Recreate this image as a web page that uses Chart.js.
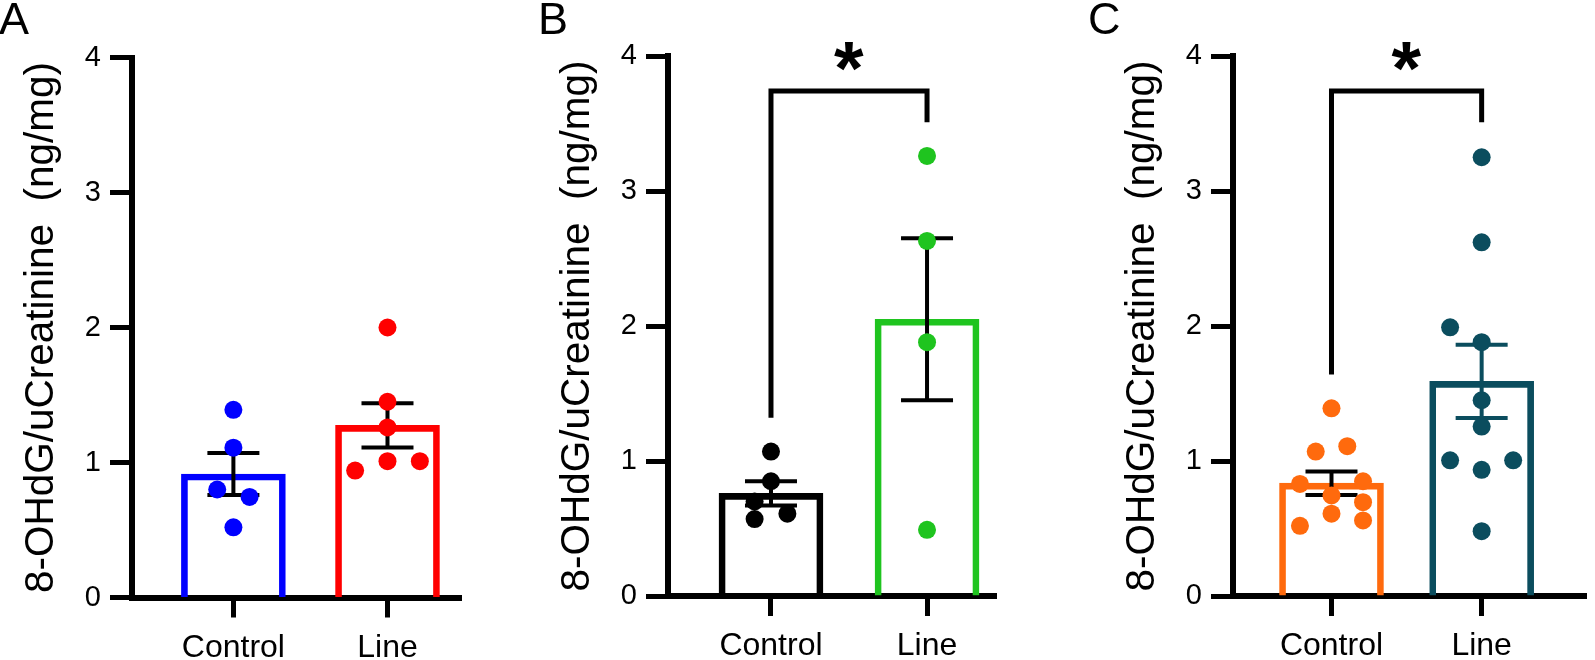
<!DOCTYPE html>
<html>
<head>
<meta charset="utf-8">
<script src="https://cdn.jsdelivr.net/npm/chart.js@4.4.1/dist/chart.umd.min.js"></script>
<style>
	html, body { margin: 0; padding: 0; background: #fff; }
	#wrap { position: relative; width: 1595px; height: 660px; overflow: hidden; }
	.panel { position: absolute; top: 0; height: 660px; }
</style>
</head>
<body>
<div id="wrap">
	<div class="panel" style="left:0;width:470px"><canvas id="chartA"></canvas></div>
	<div class="panel" style="left:536px;width:470px"><canvas id="chartB"></canvas></div>
	<div class="panel" style="left:1080px;width:515px"><canvas id="chartC"></canvas></div>
</div>
<script>
// shared axis data
const categories = ['Control', 'Line'];
const yTicks = [0, 1, 2, 3, 4];
const yTitle = '8-OHdG/uCreatinine  (ng/mg)';

// Panel A - bar = mean, whiskers = SEM, dots = animals
const aMeans = [0.915, 1.275];
const aSem = [0.155, 0.163];
const aControl = [1.39, 1.11, 0.80, 0.745, 0.52];
const aControlSlot = [0, 0, -1, 1, 0];
const aLine = [2.0, 1.45, 1.26, 1.01, 1.01, 0.94];
const aLineSlot = [0, 0, 0, 0, 2, -2];

// Panel B
const bMeans = [0.76, 2.05];
const bSem = [0.09, 0.60];
const bControl = [1.07, 0.85, 0.70, 0.61, 0.57];
const bControlSlot = [0, 0, -1, 1, -1];
const bLine = [3.26, 2.63, 1.88, 0.49];
const bLineSlot = [0, 0, 0, 0];
const bBracket = [1.32, 3.74, 3.51]; // left foot, top, right foot
const bStar = 4.0;

// Panel C
const cMeans = [0.836, 1.59];
const cSem = [0.087, 0.272];
const cControl = [1.39, 1.07, 1.11, 0.83, 0.85, 0.745, 0.695, 0.61, 0.56, 0.52];
const cControlSlot = [0, -1, 1, -2, 2, 0, 2, 0, 2, -2];
const cLine = [3.25, 2.62, 1.99, 1.88, 1.45, 1.255, 1.005, 1.005, 0.935, 0.48];
const cLineSlot = [0, 0, -2, 0, 0, 0, -2, 2, 0, 0];
const cBracket = [1.64, 3.74, 3.51];
const cStar = 4.0;

const FONT = '"Liberation Sans", Arial, Helvetica, sans-serif';
Chart.defaults.font.family = FONT;
Chart.defaults.color = '#000';

const slotStep = 0.105; // swarm column width in category units

function swarm(values, slots, cat) {
	return values.map(function(v, i) {
		return {x: cat + slots[i] * slotStep, y: v};
	});
}

// whiskers drawn right after the bars so the dots sit on top
const errorBars = {
	id: 'errorBars',
	afterDatasetDraw(chart, args, opts) {
		if (args.index !== 0) return;
		const ctx = chart.ctx;
		const x = chart.scales.x, y = chart.scales.y;
		ctx.save();
		ctx.lineWidth = 4;
		ctx.lineCap = 'butt';
		opts.means.forEach(function(m, i) {
			const px = x.getPixelForValue(i);
			const top = y.getPixelForValue(m + opts.sem[i]);
			const bot = y.getPixelForValue(m - opts.sem[i]);
			ctx.strokeStyle = opts.colors[i];
			ctx.beginPath();
			ctx.moveTo(px, top); ctx.lineTo(px, bot);
			ctx.moveTo(px - 26, top); ctx.lineTo(px + 26, top);
			ctx.moveTo(px - 26, bot); ctx.lineTo(px + 26, bot);
			ctx.stroke();
		});
		ctx.restore();
	}
};

const sigBracket = {
	id: 'sigBracket',
	afterDraw(chart, args, opts) {
		const ctx = chart.ctx;
		// panel letter
		ctx.save();
		ctx.font = '45px ' + FONT;
		ctx.fillStyle = '#000';
		ctx.textAlign = 'left';
		ctx.textBaseline = 'alphabetic';
		ctx.fillText(opts.letter, opts.letterX, 34);
		ctx.restore();

		if (!opts.bracket) return;
		const x = chart.scales.x, y = chart.scales.y;
		const x0 = x.getPixelForValue(0), x1 = x.getPixelForValue(1);
		ctx.save();
		ctx.strokeStyle = '#000';
		ctx.lineWidth = 5;
		ctx.lineJoin = 'miter';
		ctx.beginPath();
		ctx.moveTo(x0, y.getPixelForValue(opts.bracket[0]));
		ctx.lineTo(x0, y.getPixelForValue(opts.bracket[1]));
		ctx.lineTo(x1, y.getPixelForValue(opts.bracket[1]));
		ctx.lineTo(x1, y.getPixelForValue(opts.bracket[2]));
		ctx.stroke();
		// star, centred on its ink box
		ctx.font = 'bold 76px ' + FONT;
		ctx.fillStyle = '#000';
		ctx.textAlign = 'left';
		ctx.textBaseline = 'alphabetic';
		const m = ctx.measureText('*');
		const cx = (x0 + x1) / 2;
		const cy = y.getPixelForValue(opts.star);
		const left = cx - (m.actualBoundingBoxRight - m.actualBoundingBoxLeft) / 2;
		const base = cy + (m.actualBoundingBoxAscent - m.actualBoundingBoxDescent) / 2;
		ctx.fillText('*', left, base);
		ctx.restore();
	}
};

function buildPanel(id, p) {
	return new Chart(document.getElementById(id), {
		type: 'bar',
		data: {
			datasets: [{
				data: p.means.map(function(m, i) { return {x: i, y: m}; }),
				order: 2,
				barThickness: 104,
				backgroundColor: 'rgba(255,255,255,0)',
				borderColor: p.colors,
				borderWidth: 6
			}, {
				type: 'scatter',
				order: 1,
				data: swarm(p.ctrl, p.ctrlSlot, 0),
				backgroundColor: p.colors[0],
				pointRadius: 9,
				pointHoverRadius: 9,
				borderWidth: 0
			}, {
				type: 'scatter',
				order: 1,
				data: swarm(p.line, p.lineSlot, 1),
				backgroundColor: p.colors[1],
				pointRadius: 9,
				pointHoverRadius: 9,
				borderWidth: 0
			}]
		},
		options: {
			responsive: true,
			maintainAspectRatio: false,
			animation: false,
			events: [],
			layout: {padding: {left: 0, right: p.padRight, top: p.top, bottom: 0}},
			plugins: {
				legend: {display: false},
				tooltip: {enabled: false},
				errorBars: {means: p.means, sem: p.sem, colors: p.errColors},
				sigBracket: {bracket: p.bracket, star: p.star, letter: p.letter, letterX: p.letterX}
			},
			scales: {
				x: {
					type: 'linear',
					min: p.xMin,
					max: p.xMax,
					offset: false,
					bounds: 'data',
					z: 1,
					afterBuildTicks: function(s) { s.ticks = categories.map(function(c, i) { return {value: i}; }); },
					afterFit: function(s) { s.height = 660 - p.bottom; },
					grid: {offset: false, drawOnChartArea: false, drawTicks: true, tickLength: 20, tickWidth: 5, tickColor: '#000'},
					border: {display: true, width: 6, color: '#000'},
					ticks: {
						autoSkip: false, maxRotation: 0, padding: 11,
						font: {size: 32}, color: '#000',
						callback: function(v) { return categories[v]; }
					}
				},
				y: {
					min: 0,
					max: 4,
					afterBuildTicks: function(s) { s.ticks = yTicks.map(function(v) { return {value: v}; }); },
					afterFit: function(s) { s.width = p.axisX; },
					grid: {drawOnChartArea: false, drawTicks: true, tickLength: 22, tickWidth: 5, tickColor: '#000'},
					border: {display: true, width: 6, color: '#000'},
					ticks: {padding: 9, font: {size: 29}, color: '#000'},
					title: {display: true, text: yTitle, font: {size: 40.5, lineHeight: 1.2}, color: '#000', padding: {top: p.axisX - 114, bottom: 0}}
				}
			}
		},
		plugins: [errorBars, sigBracket]
	});
}

buildPanel('chartA', {
	means: aMeans, sem: aSem, ctrl: aControl, ctrlSlot: aControlSlot, line: aLine, lineSlot: aLineSlot,
	colors: ['#0000ff', '#ff0000'], errColors: ['#000', '#000'],
	bracket: null, star: null, letter: 'A', letterX: -1,
	axisX: 132, xMin: -0.658, xMax: 1.477, padRight: 7, top: 57.5, bottom: 597.5
});
buildPanel('chartB', {
	means: bMeans, sem: bSem, ctrl: bControl, ctrlSlot: bControlSlot, line: bLine, lineSlot: bLineSlot,
	colors: ['#000000', '#1fc41f'], errColors: ['#000', '#000'],
	bracket: bBracket, star: bStar, letter: 'B', letterX: 2,
	axisX: 132, xMin: -0.66, xMax: 1.442, padRight: 10, top: 56, bottom: 596
});
buildPanel('chartC', {
	means: cMeans, sem: cSem, ctrl: cControl, ctrlSlot: cControlSlot, line: cLine, lineSlot: cLineSlot,
	colors: ['#ff6a0d', '#0b4d5e'], errColors: ['#000', '#0b4d5e'],
	bracket: cBracket, star: cStar, letter: 'C', letterX: 8,
	axisX: 153, xMin: -0.656, xMax: 1.695, padRight: 0, top: 56, bottom: 596
});
</script>
</body>
</html>
